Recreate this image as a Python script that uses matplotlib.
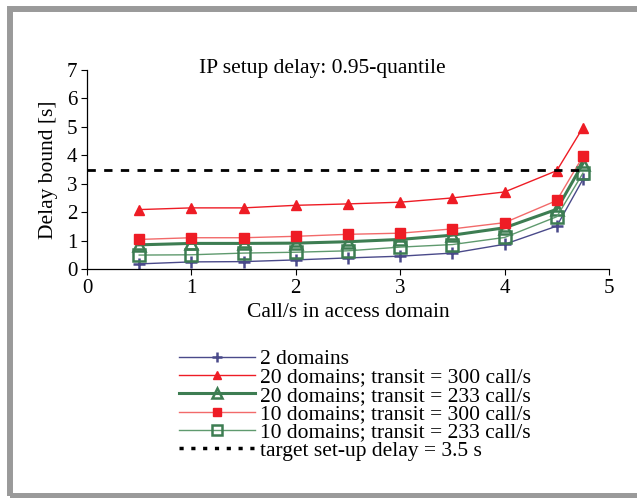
import matplotlib
matplotlib.use("Agg")
import matplotlib.pyplot as plt
from matplotlib.patches import Rectangle
from matplotlib.lines import Line2D

plt.rcParams['font.family'] = ['Liberation Serif', 'DejaVu Serif']

x = [0.5, 1.0, 1.5, 2.0, 2.5, 3.0, 3.5, 4.0, 4.5, 4.75]
d2 = [0.18, 0.25, 0.26, 0.32, 0.39, 0.45, 0.56, 0.87, 1.51, 3.15]
d20_300 = [2.09, 2.15, 2.15, 2.24, 2.29, 2.35, 2.50, 2.71, 3.46, 4.97]
d20_233 = [0.85, 0.90, 0.90, 0.91, 0.96, 1.04, 1.19, 1.45, 2.10, 3.71]
d10_300 = [1.04, 1.10, 1.10, 1.15, 1.22, 1.26, 1.41, 1.63, 2.41, 3.96]
d10_233 = [0.49, 0.50, 0.56, 0.59, 0.64, 0.77, 0.86, 1.11, 1.84, 3.37]
target = 3.5
target_x = [0, 4.72]

labels = ["2 domains",
          "20 domains; transit = 300 call/s",
          "20 domains; transit = 233 call/s",
          "10 domains; transit = 300 call/s",
          "10 domains; transit = 233 call/s",
          "target set-up delay = 3.5 s"]
title = "IP setup delay: 0.95-quantile"
xlabel = "Call/s in access domain"
ylabel = "Delay bound [s]"

W, H = 637, 498
fig = plt.figure(figsize=(W / 100, H / 100), dpi=100)

# gray frame
fig.patches.append(Rectangle((9.5 / W, 2.5 / H), 700 / W, (496 - 9.5) / H, transform=fig.transFigure,
                             fill=False, edgecolor='#9a9a9a', linewidth=4.3, zorder=0))

ax = fig.add_axes([87 / W, 1 - 269 / H, (609 - 87) / W, (269 - 70) / H])
ax.set_xlim(0, 5)
ax.set_ylim(0, 7)
ax.set_facecolor('none')
for s in ['top', 'right']:
    ax.spines[s].set_visible(False)
for s in ['left', 'bottom']:
    ax.spines[s].set_linewidth(0.9)
ax.tick_params(direction='out', length=4, width=0.8, labelsize=15, pad=3)
ax.set_xticks(range(0, 6))
ax.set_yticks(range(0, 8))

h1, = ax.plot(x, d2, color='#4a4a8a', lw=1.0, marker='+', ms=9, mew=1.8)
h2, = ax.plot(x, d20_300, color='#ee1c25', lw=1.0, marker='^', ms=7, mfc='#ee1c25', mec='#ee1c25')
h3, = ax.plot(x, d20_233, color='#3d7d52', lw=2.2, marker='^', ms=8, mfc='none', mec='#3d7d52', mew=1.8)
h4, = ax.plot(x, d10_300, color='#f26a6a', lw=1.0, marker='s', ms=7, mfc='#ee1c25', mec='#ee1c25')
h5, = ax.plot(x, d10_233, color='#5f9a6e', lw=1.0, marker='s', ms=8, mfc='none', mec='#3d7d52', mew=1.8)
h6, = ax.plot(target_x, [target, target], color='black', lw=2.0, ls=(0, (3, 3)))

fig.text(322 / W, 1 - 68 / H, title, ha='center', va='center', fontsize=15.5)
ax.set_xlabel(xlabel, fontsize=15.5, labelpad=4)
ax.set_ylabel(ylabel, fontsize=15.5, labelpad=6)

h6l = Line2D([], [], color='black', lw=2.5, ls=(0, (1.2, 2.2)))
leg = fig.legend([h1, h2, h3, h4, h5, h6l], labels, loc='upper left',
                 bbox_to_anchor=(179 / W, 1 - 349 / H), frameon=False, fontsize=15.5,
                 handlelength=3.55, handletextpad=0.22, labelspacing=-0.08, borderpad=0,
                 borderaxespad=0, markerscale=0.85)

fig.savefig('out.png', dpi=100)
